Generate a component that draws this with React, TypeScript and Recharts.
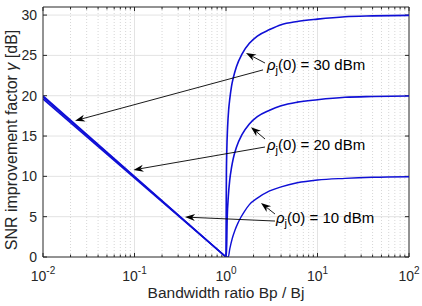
import React from 'react';
import { LineChart, Line, XAxis, YAxis, ReferenceLine, ReferenceDot } from 'recharts';

// axis ticks
const xTicks = [0.01, 0.1, 1, 10, 100];
const xTickExp = ['-2', '-1', '0', '1', '2'];
const xMinor = [
  0.02, 0.03, 0.04, 0.05, 0.06, 0.07, 0.08, 0.09,
  0.2, 0.3, 0.4, 0.5, 0.6, 0.7, 0.8, 0.9,
  2, 3, 4, 5, 6, 7, 8, 9,
  20, 30, 40, 50, 60, 70, 80, 90,
];
const yTicks = [0, 5, 10, 15, 20, 25, 30];
const yGrid = [5, 10, 15, 20, 25, 30];

// left branch (Bp < Bj), the three curves nearly overlap
const leftRatio = [0.01, 1];
const left30 = [20.0, 0];
const left20 = [19.85, 0];
const left10 = [19.6, 0];

// right branch (Bp > Bj)
const ratio30 = [1, 1.01, 1.02, 1.04, 1.07, 1.1, 1.15, 1.2, 1.3, 1.5, 1.8, 2.2, 3, 4, 6, 10, 20, 40, 100];
const gamma30 = [0, 10.0, 13.1, 16.0, 18.3, 19.6, 21.2, 22.2, 23.6, 25.2, 26.5, 27.4, 28.2, 28.8, 29.2, 29.5, 29.8, 29.9, 29.96];

const ratio20 = [1, 1.01, 1.03, 1.06, 1.1, 1.15, 1.2, 1.3, 1.5, 1.8, 2.2, 3, 4, 6, 10, 20, 40, 100];
const gamma20 = [0, 0, 4.7, 7.5, 9.6, 11.1, 12.2, 13.6, 15.2, 16.5, 17.4, 18.2, 18.75, 19.2, 19.5, 19.8, 19.9, 19.96];

const ratio10 = [1, 1.06, 1.1, 1.17, 1.25, 1.35, 1.45, 1.6, 1.8, 2.2, 3, 4, 6, 10, 20, 40, 100];
const gamma10 = [0, 0, 1.0, 2.3, 3.3, 4.2, 4.9, 5.7, 6.5, 7.3, 8.2, 8.7, 9.2, 9.55, 9.75, 9.88, 9.95];

const labels = ['30 dBm', '20 dBm', '10 dBm'];

const toPoints = (xs: number[], ys: number[]) => xs.map((r, i) => ({ ratio: r, gamma: ys[i] }));

const FONT = '"Liberation Sans", Arial, Helvetica, sans-serif';
const AXIS = '#262626';
const BLUE = '#0f0fd6';

// annotation anchors in data coordinates: [tail, head]
const arrows = [
  [{ x: 2.67, y: 24.05 }, { x: 1.654, y: 25.3 }],
  [{ x: 2.54, y: 23.2 }, { x: 0.0224, y: 16.9 }],
  [{ x: 2.67, y: 14.63 }, { x: 1.876, y: 16.1 }],
  [{ x: 2.67, y: 13.64 }, { x: 0.0975, y: 10.8 }],
  [{ x: 3.43, y: 5.33 }, { x: 2.413, y: 6.7 }],
  [{ x: 3.43, y: 4.46 }, { x: 0.3563, y: 4.95 }],
];
const textAnchors = [
  { x: 2.806, y: 23.25 },
  { x: 2.806, y: 13.27 },
  { x: 3.519, y: 4.22 },
];

const Arrow = (p: any) => {
  const { x1, y1, x2, y2 } = p;
  const a = Math.atan2(y2 - y1, x2 - x1);
  const ux = Math.cos(a);
  const uy = Math.sin(a);
  const L = 10, W = 3.6, N = 7;
  const bx = x2 - ux * L;
  const by = y2 - uy * L;
  const nx = x2 - ux * N;
  const ny = y2 - uy * N;
  const pts = `${x2},${y2} ${bx - uy * W},${by + ux * W} ${nx},${ny} ${bx + uy * W},${by - ux * W}`;
  return (
    <g>
      <line x1={x1} y1={y1} x2={nx} y2={ny} stroke="#000" strokeWidth={0.9} />
      <polygon points={pts} fill="#000" />
    </g>
  );
};

const XTick = (p: any) => {
  const { x, y, payload } = p;
  const i = xTicks.indexOf(payload.value);
  return (
    <text x={x} y={y + 24} textAnchor="middle" fontSize={14} fill={AXIS} fontFamily={FONT}>
      <tspan>10</tspan>
      <tspan dy={-7} fontSize={10}>{xTickExp[i]}</tspan>
    </text>
  );
};

const RhoLabel = (text: string) => (p: any) => (
  <text x={p.cx} y={p.cy} fontSize={15} fill="#000" fontFamily={FONT}>
    <tspan fontStyle="italic">ρ</tspan>
    <tspan dy={4} fontSize={11}>j</tspan>
    <tspan dy={-4}>{`(0) = ${text}`}</tspan>
  </text>
);

export default function App() {
  return (
    <div style={{ width: 422, height: 306 }}>
      <style>{'body{margin:0}'}</style>
      <LineChart width={422} height={306} margin={{ top: 7, right: 13, bottom: 9, left: 8 }}>
        {/* grid */}
        {yGrid.map((v) => (
          <ReferenceLine key={`hg${v}`} y={v} stroke="#e3e3e3" strokeWidth={1} />
        ))}
        {xMinor.map((v) => (
          <ReferenceLine key={`vm${v}`} x={v} stroke="#d6d6d6" strokeDasharray="1 2" strokeWidth={1} />
        ))}
        {xTicks.slice(1, 4).map((v) => (
          <ReferenceLine key={`vg${v}`} x={v} stroke="#e3e3e3" strokeWidth={1} />
        ))}

        <XAxis
          dataKey="ratio"
          type="number"
          scale="log"
          domain={[0.01, 100]}
          allowDataOverflow
          ticks={xTicks}
          tick={<XTick />}
          tickSize={0}
          tickMargin={0}
          tickLine={false}
          axisLine={{ stroke: AXIS }}
          height={40}
          label={{
            content: () => (
              <text x={226} y={298} textAnchor="middle" fontSize={15.5} fill={AXIS} fontFamily={FONT}>
                Bandwidth ratio Bp / Bj
              </text>
            ),
          }}
        />
        <YAxis
          type="number"
          domain={[0, 31]}
          ticks={yTicks}
          allowDataOverflow
          tickSize={0}
          tickMargin={6}
          tickLine={false}
          axisLine={{ stroke: AXIS }}
          width={35}
          tick={{ fontSize: 14, fill: AXIS, fontFamily: FONT }}
          label={{
            content: () => (
              <text
                transform="translate(17,140) rotate(-90)"
                textAnchor="middle"
                fontSize={16}
                fill={AXIS}
                fontFamily={FONT}
              >
                SNR improvement factor <tspan fontStyle="italic">γ</tspan> [dB]
              </text>
            ),
          }}
        />

        {/* box */}
        <ReferenceLine y={31} stroke={AXIS} />
        <ReferenceLine x={100} stroke={AXIS} />

        {/* inward ticks */}
        {xTicks.map((v) => (
          <ReferenceLine key={`bt${v}`} segment={[{ x: v, y: 0 }, { x: v, y: 0.5 }]} stroke={AXIS} />
        ))}
        {xTicks.map((v) => (
          <ReferenceLine key={`tt${v}`} segment={[{ x: v, y: 31 }, { x: v, y: 30.5 }]} stroke={AXIS} />
        ))}
        {xMinor.map((v) => (
          <ReferenceLine key={`bm${v}`} segment={[{ x: v, y: 0 }, { x: v, y: 0.3 }]} stroke={AXIS} />
        ))}
        {xMinor.map((v) => (
          <ReferenceLine key={`tm${v}`} segment={[{ x: v, y: 31 }, { x: v, y: 30.7 }]} stroke={AXIS} />
        ))}
        {yTicks.map((v) => (
          <ReferenceLine key={`lt${v}`} segment={[{ x: 0.01, y: v }, { x: 0.01106, y: v }]} stroke={AXIS} />
        ))}
        {yTicks.map((v) => (
          <ReferenceLine key={`rt${v}`} segment={[{ x: 90.4, y: v }, { x: 100, y: v }]} stroke={AXIS} />
        ))}

        {/* curves */}
        <Line data={toPoints(leftRatio, left10)} dataKey="gamma" type="linear" stroke={BLUE} strokeWidth={1.5} dot={false} isAnimationActive={false} />
        <Line data={toPoints(leftRatio, left20)} dataKey="gamma" type="linear" stroke={BLUE} strokeWidth={1.5} dot={false} isAnimationActive={false} />
        <Line data={toPoints(leftRatio, left30)} dataKey="gamma" type="linear" stroke={BLUE} strokeWidth={1.5} dot={false} isAnimationActive={false} />
        <Line data={toPoints(ratio10, gamma10)} dataKey="gamma" type="monotone" stroke={BLUE} strokeWidth={1.4} dot={false} isAnimationActive={false} />
        <Line data={toPoints(ratio20, gamma20)} dataKey="gamma" type="monotone" stroke={BLUE} strokeWidth={1.6} dot={false} isAnimationActive={false} />
        <Line data={toPoints(ratio30, gamma30)} dataKey="gamma" type="monotone" stroke={BLUE} strokeWidth={1.6} dot={false} isAnimationActive={false} />

        {/* annotations */}
        {arrows.map((seg, i) => (
          <ReferenceLine key={`ar${i}`} segment={seg} shape={Arrow} ifOverflow="visible" />
        ))}
        {textAnchors.map((pos, i) => (
          <ReferenceDot key={`tx${i}`} x={pos.x} y={pos.y} r={0} shape={RhoLabel(labels[i])} ifOverflow="visible" />
        ))}
      </LineChart>
    </div>
  );
}
